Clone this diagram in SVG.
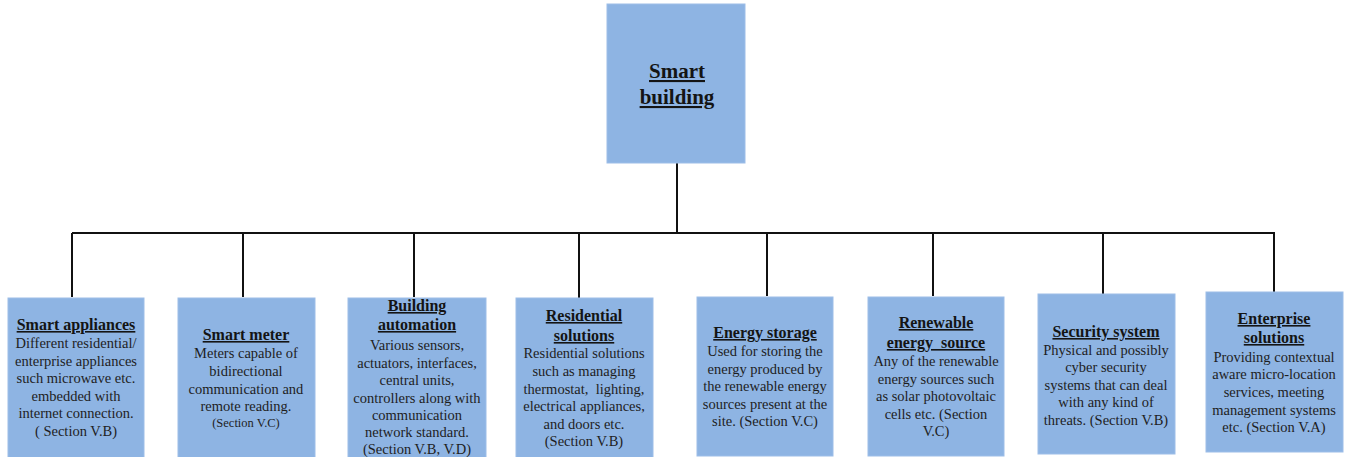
<svg xmlns="http://www.w3.org/2000/svg" width="1345" height="457" viewBox="0 0 1345 457">
<style>
.box{fill:#8EB4E3;stroke:#9DBEE8;stroke-width:1}
text{font-family:'Liberation Serif','Times New Roman',serif}
.t{font-weight:bold;font-size:16px;fill:#141414;text-anchor:middle;text-decoration:underline}
.b{font-size:14.5px;fill:#1e1e1e;text-anchor:middle}
.s{font-size:12.5px}
.c{stroke:#111;stroke-width:2;fill:none}
</style>
<rect width="1345" height="457" fill="#fff"/>
<g id="connectors">
<path class="c" d="M677 163V233M72 233H1275M72 233V297M243 233V297M414 233V297M579 233V298M767 233V296M933 233V296M1103 233V294M1274 233V292"/>
</g>
<g id="smart-building">
<rect class="box" x="607" y="4" width="138" height="159"/>
<text class="t" style="font-size:21px" x="677" y="78">Smart</text>
<text class="t" style="font-size:21px" x="677" y="104">building</text>
</g>
<g id="smart-appliances">
<rect class="box" x="8" y="298" width="136" height="162"/>
<text class="t" x="76" y="330">Smart appliances</text>
<text class="b" x="76" y="348">Different residential/</text>
<text class="b" x="76" y="365.5">enterprise appliances</text>
<text class="b" x="76" y="383">such microwave etc.</text>
<text class="b" x="76" y="400.5">embedded with</text>
<text class="b" x="76" y="418">internet connection.</text>
<text class="b" x="76" y="435.5">( Section V.B)</text>
</g>
<g id="smart-meter">
<rect class="box" x="178" y="298" width="137" height="162"/>
<text class="t" x="246" y="340">Smart meter</text>
<text class="b" x="246" y="358">Meters capable of</text>
<text class="b" x="246" y="376">bidirectional</text>
<text class="b" x="246" y="394">communication and</text>
<text class="b" x="246" y="411">remote reading.</text>
<text class="b s" x="246" y="427">(Section V.C)</text>
</g>
<g id="building-automation">
<rect class="box" x="348" y="298" width="138" height="162"/>
<text class="t" x="417" y="311">Building</text>
<text class="t" x="417" y="330">automation</text>
<text class="b" x="417" y="350">Various sensors,</text>
<text class="b" x="417" y="367.5">actuators, interfaces,</text>
<text class="b" x="417" y="385">central units,</text>
<text class="b" x="417" y="402.5">controllers along with</text>
<text class="b" x="417" y="420">communication</text>
<text class="b" x="417" y="437">network standard.</text>
<text class="b" x="417" y="454">(Section V.B, V.D)</text>
</g>
<g id="residential-solutions">
<rect class="box" x="516" y="298" width="137" height="162"/>
<text class="t" x="584" y="321">Residential</text>
<text class="t" x="584" y="341">solutions</text>
<text class="b" x="584" y="358">Residential solutions</text>
<text class="b" x="584" y="376">such as managing</text>
<text class="b" x="584" y="393.5" xml:space="preserve">thermostat,  lighting,</text>
<text class="b" x="584" y="411">electrical appliances,</text>
<text class="b" x="584" y="429">and doors etc.</text>
<text class="b" x="584" y="446">(Section V.B)</text>
</g>
<g id="energy-storage">
<rect class="box" x="697" y="297" width="136" height="159"/>
<text class="t" x="765" y="338">Energy storage</text>
<text class="b" x="765" y="356">Used for storing the</text>
<text class="b" x="765" y="374">energy produced by</text>
<text class="b" x="765" y="391">the renewable energy</text>
<text class="b" x="765" y="408.5">sources present at the</text>
<text class="b" x="765" y="426">site. (Section V.C)</text>
</g>
<g id="renewable-energy-source">
<rect class="box" x="868" y="297" width="136" height="159"/>
<text class="t" x="936" y="328">Renewable</text>
<text class="t" x="936" y="348" xml:space="preserve">energy  source</text>
<text class="b" x="936" y="366">Any of the renewable</text>
<text class="b" x="936" y="383.5">energy sources such</text>
<text class="b" x="936" y="401">as solar photovoltaic</text>
<text class="b" x="936" y="418.5">cells etc. (Section</text>
<text class="b" x="936" y="436">V.C)</text>
</g>
<g id="security-system">
<rect class="box" x="1038" y="294" width="137" height="160"/>
<text class="t" x="1106" y="337">Security system</text>
<text class="b" x="1106" y="354.5">Physical and possibly</text>
<text class="b" x="1106" y="372">cyber security</text>
<text class="b" x="1106" y="389.5">systems that can deal</text>
<text class="b" x="1106" y="407">with any kind of</text>
<text class="b" x="1106" y="424.5">threats. (Section V.B)</text>
</g>
<g id="enterprise-solutions">
<rect class="box" x="1206" y="292" width="137" height="160"/>
<text class="t" x="1274" y="324">Enterprise</text>
<text class="t" x="1274" y="343">solutions</text>
<text class="b" x="1274" y="361.5">Providing contextual</text>
<text class="b" x="1274" y="379">aware micro-location</text>
<text class="b" x="1274" y="397">services, meeting</text>
<text class="b" x="1274" y="414.5">management systems</text>
<text class="b" x="1274" y="432">etc. (Section V.A)</text>
</g>
</svg>
